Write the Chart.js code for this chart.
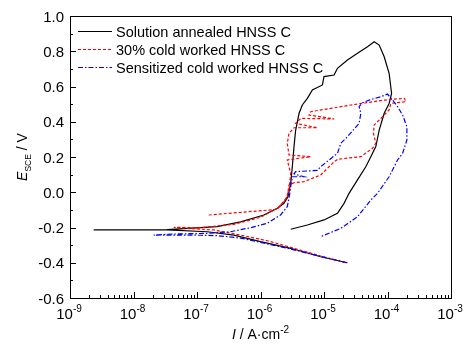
<!DOCTYPE html>
<html>
<head>
<meta charset="utf-8">
<script src="https://cdn.jsdelivr.net/npm/chart.js@4"></script>
<style>
  html, body { margin: 0; padding: 0; background: #fff; }
</style>
</head>
<body>
<canvas id="chart" width="476" height="352"></canvas>
<script>
(() => {
  // current density (A/cm2) and potential (V vs SCE)
  const annealedI = [2.34e-5, 8.87e-6, 2.99e-6, 1.0e-6, 3.81e-7, 1.45e-7, 3.38e-8, 2.36e-9, 3.38e-8, 2.08e-7, 4.85e-7, 1.13e-6, 1.84e-6, 2.34e-6, 2.71e-6, 2.99e-6, 3.17e-6, 3.37e-6, 3.58e-6, 4.05e-6, 4.56e-6, 5.47e-6, 6.56e-6, 9.44e-6, 1.0e-5, 1.44e-5, 1.63e-5, 2.34e-5, 3.37e-5, 4.84e-5, 6.17e-5, 7.40e-5, 8.87e-5, 1.06e-4, 1.16e-4, 1.06e-4, 8.87e-5, 7.40e-5, 6.55e-5, 5.46e-5, 4.55e-5, 3.37e-5, 2.48e-5, 2.07e-5, 1.63e-5, 1.0e-5, 5.47e-6, 2.99e-6];
  const annealedE = [-0.400, -0.366, -0.318, -0.280, -0.243, -0.224, -0.214, -0.214, -0.212, -0.195, -0.168, -0.129, -0.091, -0.063, -0.025, 0.051, 0.145, 0.259, 0.353, 0.448, 0.495, 0.533, 0.580, 0.609, 0.656, 0.665, 0.703, 0.750, 0.788, 0.826, 0.854, 0.835, 0.769, 0.675, 0.561, 0.504, 0.448, 0.353, 0.259, 0.202, 0.145, 0.070, -0.006, -0.063, -0.120, -0.157, -0.186, -0.210];

  const coldI = [2.2e-5, 8.87e-6, 3.37e-6, 1.28e-6, 4.85e-7, 1.84e-7, 6.98e-8, 4.31e-8, 1.14e-7, 3.81e-7, 1.0e-6, 1.84e-6, 2.49e-6, 2.81e-6, 2.99e-6, 2.64e-6, 6.18e-6, 2.81e-6, 2.64e-6, 2.81e-6, 3.37e-6, 7.87e-6, 3.58e-6, 4.30e-6, 1.44e-5, 5.81e-6, 6.18e-6, 2.64e-5, 8.87e-5, 1.84e-4, 1.95e-4, 1.13e-4, 1.06e-4, 8.87e-5, 6.17e-5, 6.01e-5, 6.55e-5, 5.81e-5, 3.80e-5, 1.63e-5, 1.36e-5, 8.87e-6, 4.85e-6, 3.37e-6, 2.81e-6, 2.64e-6, 1.84e-6, 1.53e-7];
  const coldE = [-0.400, -0.362, -0.318, -0.275, -0.243, -0.214, -0.205, -0.199, -0.201, -0.182, -0.142, -0.091, -0.044, 0.013, 0.107, 0.183, 0.202, 0.211, 0.278, 0.334, 0.366, 0.366, 0.391, 0.419, 0.416, 0.438, 0.457, 0.495, 0.523, 0.533, 0.514, 0.504, 0.467, 0.438, 0.382, 0.334, 0.278, 0.249, 0.202, 0.187, 0.164, 0.098, 0.060, 0.054, 0.041, -0.025, -0.097, -0.129];

  const sensI = [2.3e-5, 8.87e-6, 2.99e-6, 1.0e-6, 4.85e-7, 2.08e-7, 1.14e-7, 4.31e-8, 2.08e-8, 4.31e-8, 1.45e-7, 3.37e-7, 6.98e-7, 1.28e-6, 2.07e-6, 2.64e-6, 2.84e-6, 3.02e-6, 3.17e-6, 4.85e-6, 3.37e-6, 3.58e-6, 7.87e-6, 8.87e-6, 1.63e-5, 1.84e-5, 2.34e-5, 3.57e-5, 3.80e-5, 3.57e-5, 4.04e-5, 5.14e-5, 7.85e-5, 1.0e-4, 1.2e-4, 1.44e-4, 1.73e-4, 2.02e-4, 2.02e-4, 1.73e-4, 1.44e-4, 1.06e-4, 6.97e-5, 5.46e-5, 3.37e-5, 1.84e-5, 8.87e-6];
  const sensE = [-0.400, -0.364, -0.322, -0.284, -0.260, -0.246, -0.244, -0.243, -0.243, -0.237, -0.233, -0.224, -0.201, -0.176, -0.129, -0.082, -0.025, 0.041, 0.088, 0.088, 0.104, 0.117, 0.124, 0.145, 0.221, 0.278, 0.315, 0.391, 0.448, 0.486, 0.508, 0.523, 0.542, 0.557, 0.523, 0.486, 0.438, 0.372, 0.296, 0.221, 0.183, 0.088, -0.006, -0.044, -0.139, -0.205, -0.252];

  const seriesNames = ['Solution annealed HNSS C', '30% cold worked HNSS C', 'Sensitized cold worked HNSS C'];
  const yTicks = [-0.6, -0.4, -0.2, 0.0, 0.2, 0.4, 0.6, 0.8, 1.0];
  const xDecades = [-9, -8, -7, -6, -5, -4, -3];

  const FONT = '"Liberation Sans", Arial, sans-serif';
  const pts = (xs, ys) => xs.map((v, i) => ({ x: v, y: ys[i] }));

  const styles = [
    { color: '#000000', dash: [] },
    { color: '#ff0000', dash: [3, 2] },
    { color: '#0000ff', dash: [5, 2, 1.5, 2] }
  ];

  function drawSup(ctx, parts, x, y, align) {
    // parts: [text, size, italic, dy]
    let total = 0;
    parts.forEach(p => { ctx.font = `${p[2] ? 'italic ' : ''}${p[1]}px ${FONT}`; total += ctx.measureText(p[0]).width; });
    let cx = align === 'center' ? x - total / 2 : x;
    parts.forEach(p => {
      ctx.font = `${p[2] ? 'italic ' : ''}${p[1]}px ${FONT}`;
      ctx.fillText(p[0], cx, y + (p[3] || 0));
      cx += ctx.measureText(p[0]).width;
    });
  }

  const decor = {
    id: 'decor',
    afterDraw(chart) {
      const { ctx, chartArea: a, scales: { x, y } } = chart;
      ctx.save();
      ctx.strokeStyle = '#000';
      ctx.fillStyle = '#000';
      ctx.lineWidth = 1;
      ctx.setLineDash([]);
      ctx.strokeRect(Math.round(a.left) + 0.5, Math.round(a.top) + 0.5, Math.round(a.right - a.left), Math.round(a.bottom - a.top));

      // inward ticks
      ctx.beginPath();
      for (let v = -0.6; v <= 1.0001; v += 0.1) {
        const p = Math.round(y.getPixelForValue(v)) + 0.5;
        const major = Math.abs(Math.round(v * 10)) % 2 === 0;
        ctx.moveTo(a.left, p); ctx.lineTo(a.left + (major ? 6 : 3), p);
      }
      xDecades.forEach((d, k) => {
        for (let m = 1; m <= 9; m++) {
          if (k === xDecades.length - 1 && m > 1) break;
          const p = Math.round(x.getPixelForValue(m * Math.pow(10, d))) + 0.5;
          ctx.moveTo(p, a.bottom); ctx.lineTo(p, a.bottom - (m === 1 ? 6 : 3));
        }
      });
      ctx.stroke();

      // tick labels
      ctx.textBaseline = 'alphabetic';
      ctx.textAlign = 'right';
      ctx.font = `15px ${FONT}`;
      yTicks.forEach(v => ctx.fillText(v.toFixed(1), a.left - 6, y.getPixelForValue(v) + 5.5));
      ctx.textAlign = 'left';
      xDecades.forEach(d => {
        drawSup(ctx, [['10', 15], [String(d), 10, false, -7]], x.getPixelForValue(Math.pow(10, d)) - 1, a.bottom + 21, 'center');
      });

      // axis titles
      drawSup(ctx, [['I', 14, true], [' / A·cm', 14], ['-2', 10, false, -6]], (a.left + a.right) / 2, a.bottom + 41, 'center');
      ctx.save();
      ctx.translate(27, (a.top + a.bottom) / 2);
      ctx.rotate(-Math.PI / 2);
      drawSup(ctx, [['E', 14, true], ['SCE', 8.5, false, 4], [' / V', 14]], 0, 0, 'center');
      ctx.restore();

      // legend
      seriesNames.forEach((name, i) => {
        const ly = a.top + 15 + i * 18;
        ctx.strokeStyle = styles[i].color;
        ctx.setLineDash(styles[i].dash);
        ctx.beginPath();
        ctx.moveTo(a.left + 8, ly + 0.5); ctx.lineTo(a.left + 42, ly + 0.5);
        ctx.stroke();
        ctx.font = `14.5px ${FONT}`;
        ctx.fillText(name, a.left + 46, ly + 5.5);
      });
      ctx.restore();
    }
  };

  const datasets = [[annealedI, annealedE], [coldI, coldE], [sensI, sensE]].map((s, i) => ({
    label: seriesNames[i],
    data: pts(s[0], s[1]),
    showLine: true,
    fill: false,
    borderColor: styles[i].color,
    borderDash: styles[i].dash,
    borderWidth: 1.2,
    pointRadius: 0,
    tension: 0,
    order: 3 - i
  }));

  new Chart(document.getElementById('chart').getContext('2d'), {
    type: 'scatter',
    data: { datasets },
    options: {
      responsive: false,
      animation: false,
      devicePixelRatio: 1,
      layout: { padding: { left: 70, right: 25, top: 16, bottom: 54 } },
      scales: {
        x: { type: 'logarithmic', min: 1e-9, max: 1e-3, display: false },
        y: { type: 'linear', min: -0.6, max: 1.0, display: false }
      },
      plugins: { legend: { display: false }, tooltip: { enabled: false } }
    },
    plugins: [decor]
  });
})();
</script>
</body>
</html>
